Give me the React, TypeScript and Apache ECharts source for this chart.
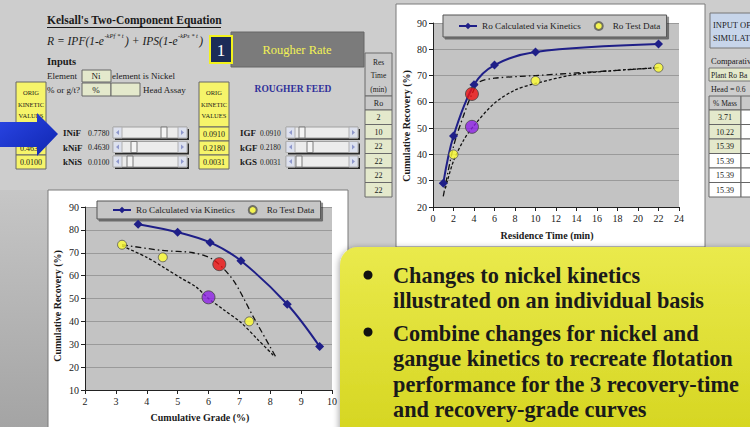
import React, { useEffect, useRef } from "react";
import * as echarts from "echarts";

// ---------- data ----------
const LEGEND_NAMES = ["Ro Calculated via Kinetics", "Ro Test Data"];

// Recovery vs residence time (top-right chart)
const timeCalc = [1, 2, 4, 6, 10, 22];
const recCalcTime = [29, 47, 66.5, 74, 79, 82];
const timeTest = [2, 10, 22];
const recTestTime = [40, 68, 73];
const timeDashDot = [1, 2, 3, 3.8, 4.5, 6, 10, 16, 22];
const recDashDotTime = [24, 43, 55, 63, 67.5, 69, 70, 71.5, 73];
const timeDotted = [1.2, 2, 3, 4, 6, 8, 10, 14, 18, 22];
const recDottedTime = [27, 37.5, 45.5, 51, 59.5, 64.5, 67, 70.5, 72, 73];
const timeRed = [3.8];
const recRedTime = [63];
const timePurple = [3.8];
const recPurpleTime = [50.5];

// Recovery vs grade (bottom-left chart)
const gradeCalc = [3.72, 5.0, 6.05, 7.05, 8.55, 9.6];
const recCalcGrade = [82.5, 79, 74.5, 66.5, 47.5, 29];
const gradeTest = [3.2, 4.52, 7.32];
const recTestGrade = [73.5, 68, 40];
const gradeDashDot = [3.2, 4.5, 5.5, 6.15, 6.8, 7.45, 8.2];
const recDashDotGrade = [73.5, 71, 70, 67, 58, 42, 24];
const gradeDotted = [3.2, 4.0, 4.5, 5.1, 5.6, 6.0, 6.5, 7.05, 7.6, 8.15];
const recDottedGrade = [73, 68, 64, 59, 55, 50, 45, 39.5, 32, 24.5];
const gradeRed = [6.35];
const recRedGrade = [65];
const gradePurple = [6.0];
const recPurpleGrade = [50.5];

// Spreadsheet values
const resTimes = ["2", "10", "22", "22", "22", "22"];
const massPct = ["3.71", "10.22", "15.39", "15.39", "15.39", "15.39"];
const bulletLines1 = ["Changes to nickel kinetics", "illustrated on an individual basis"];
const bulletLines2 = [
  "Combine changes for nickel and",
  "gangue kinetics to recreate flotation",
  "performance for the 3 recovery-time",
  "and recovery-grade curves",
];

const zip = (a: number[], b: number[]) => a.map((v, i) => [v, b[i]]);

const SERIF_NAME = "Liberation Serif";
const SERIF = "'Liberation Serif', 'DejaVu Serif', serif";
const BLUE = "#1f1f88";
const YELLOW_PT = "#ffff33";

function measure(text: string, size: number, italic = false) {
  const c = document.createElement("canvas").getContext("2d");
  if (!c) return text.length * size * 0.45;
  c.font = `${italic ? "italic " : ""}${size}px "${SERIF_NAME}"`;
  return c.measureText(text).width;
}

function T(text: string, x: number, y: number, o: any = {}) {
  return {
    type: "text",
    x,
    y,
    z: o.z ?? 1,
    rotation: o.rotation ?? 0,
    style: {
      text,
      fontFamily: SERIF,
      fontSize: o.size ?? 10,
      fontWeight: o.bold ? "bold" : "normal",
      fontStyle: o.italic ? "italic" : "normal",
      fill: o.color ?? "#1a1a1a",
      align: o.align ?? "left",
      verticalAlign: "middle",
    },
  };
}
function R(x: number, y: number, w: number, h: number, fill: any, stroke?: string, o: any = {}) {
  return {
    type: "rect",
    z: o.z ?? 0,
    shape: { x, y, width: w, height: h, r: o.r ?? 0 },
    style: {
      fill,
      stroke: stroke ?? null,
      lineWidth: o.lw ?? 1,
      shadowBlur: o.shadowBlur ?? 0,
      shadowColor: o.shadowColor ?? "transparent",
      shadowOffsetX: o.sx ?? 0,
      shadowOffsetY: o.sy ?? 0,
    },
  };
}
function slider(x: number, y: number, w: number, thumbX: number) {
  const h = 11;
  return [
    R(x + 2, y + 2, w, h, "#2a2a2a"),
    R(x, y, w, h, "#ececec", "#a0a0a0"),
    R(x, y, 9, h, "#dde1ee", "#b0b0b0"),
    R(x + w - 9, y, 9, h, "#dde1ee", "#b0b0b0"),
    {
      type: "polygon",
      z: 1,
      shape: { points: [[x + 6, y + 3], [x + 6, y + 8], [x + 3, y + 5.5]] },
      style: { fill: "#8f98cc" },
    },
    {
      type: "polygon",
      z: 1,
      shape: { points: [[x + w - 6, y + 3], [x + w - 6, y + 8], [x + w - 3, y + 5.5]] },
      style: { fill: "#8f98cc" },
    },
    R(thumbX, y, 6, h, "#f4f4f4", "#7a7a7a", { z: 1 }),
  ];
}

function buildGraphics() {
  const g: any[] = [];
  // page background
  g.push(R(0, 0, 750, 427, "#cdcdcd", undefined, { z: -10 }));
  g.push(
    R(0, 190, 48, 237, new echarts.graphic.LinearGradient(0, 0, 0, 1, [
      { offset: 0, color: "#c6c6c6" },
      { offset: 1, color: "#a4a4a4" },
    ]), undefined, { z: -9 })
  );
  // chart white areas
  g.push(R(396, 4, 309, 243, "#ffffff", "#7a7a7a", { z: -9 }));
  g.push(R(48, 190, 300, 240, "#ffffff", "#7a7a7a", { z: -9 }));

  // Title & formula
  g.push(T("Kelsall's Two-Component Equation", 47, 20, { size: 11.5, bold: true }));
  g.push({ type: "line", z: 1, shape: { x1: 47, y1: 27.5, x2: 221, y2: 27.5 }, style: { stroke: "#1a1a1a", lineWidth: 1 } });
  const fMain = 11.5;
  const fSup = 6.5;
  const pieces: [string, boolean][] = [
    ["R = IPF(1-e", false],
    ["-kPf * t", true],
    [") + IPS(1-e", false],
    ["-kPs * t", true],
    [")", false],
  ];
  let fx = 47;
  pieces.forEach(([txt, sup]) => {
    const size = sup ? fSup : fMain;
    g.push(T(txt, fx, sup ? 35 : 41, { size, italic: true }));
    fx += measure(txt, size, true) + (sup ? 1.5 : 0.5);
  });

  // "1" box and Rougher Rate
  g.push(R(231, 32, 133, 35, "#7b7b7b", "#666"));
  g.push(T("Rougher Rate", 297, 50, { size: 12.5, color: "#f2f256", align: "center" }));
  g.push(R(210, 36, 22, 27, "#1c2c58", "#f2f21c", { lw: 2, z: 1 }));
  g.push(T("1", 221, 50, { size: 17, color: "#ffffff", align: "center", z: 2 }));

  // Inputs
  g.push(T("Inputs", 47, 61, { size: 10.5, bold: true }));
  g.push(T("Element", 47, 76, { size: 9 }));
  g.push(R(82, 70, 29, 12, "#e4e9cc", "#666"));
  g.push(T("Ni", 96, 76, { size: 9, align: "center" }));
  g.push(T("element is Nickel", 112, 76, { size: 9 }));
  g.push(T("% or g/t?", 47, 90, { size: 9 }));
  g.push(R(82, 83, 29, 13, "#e4e9cc", "#666"));
  g.push(T("%", 96, 90, { size: 9, align: "center" }));
  g.push(R(111, 83, 29, 13, "#e4e9cc", "#666"));
  g.push(T("Head Assay", 143, 90, { size: 9 }));

  // ORIG KINETIC VALUES boxes
  const yellowBox = (x: number, vals: string[]) => {
    g.push(R(x, 82, 30, 45, "#f6f46a", "#666"));
    g.push(T("ORIG", x + 15, 92, { size: 6.5, align: "center" }));
    g.push(T("KINETIC", x + 15, 104, { size: 6.5, align: "center" }));
    g.push(T("VALUES", x + 15, 115, { size: 6.5, align: "center" }));
    vals.forEach((v, i) => {
      g.push(R(x, 127 + i * 14, 30, 14, "#f6f46a", "#666"));
      g.push(T(v, x + 15, 134 + i * 14, { size: 8, align: "center" }));
    });
  };
  yellowBox(16, ["0.7780", "0.4630", "0.0100"]);
  yellowBox(199, ["0.0910", "0.2180", "0.0031"]);

  g.push(T("ROUGHER FEED", 293, 89, { size: 9.5, bold: true, color: "#30309a", align: "center" }));

  // Left slider block
  const leftLab = ["INiF", "kNiF", "kNiS"];
  const leftVal = ["0.7780", "0.4630", "0.0100"];
  const leftThumb = [161, 131, 127];
  leftLab.forEach((l, i) => {
    const yc = 133 + i * 14.5;
    g.push(T(l, 63, yc, { size: 9, bold: true }));
    g.push(T(leftVal[i], 88, yc, { size: 7.8 }));
    g.push(...slider(113, yc - 6, 74, leftThumb[i]));
  });
  const rightLab = ["IGF", "kGF", "kGS"];
  const rightVal = ["0.0910", "0.2180", "0.0031"];
  const rightThumb = [299, 307, 296];
  rightLab.forEach((l, i) => {
    const yc = 133 + i * 14.5;
    g.push(T(l, 240, yc, { size: 9, bold: true }));
    g.push(T(rightVal[i], 260, yc, { size: 7.5 }));
    g.push(...slider(286, yc - 6, 72, rightThumb[i]));
  });

  // Blue arrow
  g.push({
    type: "polygon",
    z: 3,
    shape: { points: [[0, 122], [37, 122], [37, 113], [58, 134], [37, 156], [37, 147], [0, 147]] },
    style: {
      fill: new echarts.graphic.LinearGradient(0, 0, 1, 1, [
        { offset: 0, color: "#2a46e6" },
        { offset: 1, color: "#1026b0" },
      ]),
    },
  });

  // Res Time column
  g.push(R(365, 53, 27, 43, "#c9c9c9", "#6a6a6a"));
  g.push(T("Res", 378.5, 62, { size: 7.5, align: "center" }));
  g.push(T("Time", 378.5, 75, { size: 7.5, align: "center" }));
  g.push(T("(min)", 378.5, 89, { size: 7.5, align: "center" }));
  g.push(R(365, 96, 27, 14, "#c9c9c9", "#6a6a6a"));
  g.push(T("Ro", 378.5, 103, { size: 8, align: "center" }));
  resTimes.forEach((v, i) => {
    g.push(R(365, 110 + i * 14.5, 27, 14.5, "#e4e9cc", "#6a6a6a"));
    g.push(T(v, 378.5, 117.5 + i * 14.5, { size: 8, align: "center" }));
  });

  // Right-edge table
  g.push(R(710, 13, 45, 35, "#c7d5ea", "#777"));
  g.push(T("INPUT OF", 713, 25, { size: 8.5 }));
  g.push(T("SIMULAT", 713, 38, { size: 8.5 }));
  g.push(T("Comparativ", 711, 61, { size: 8.5 }));
  g.push(R(709, 68, 46, 13, "#e4e9cc", "#777"));
  g.push(T("Plant Ro Ba", 711, 75, { size: 7.5 }));
  g.push(T("Head =", 711, 89, { size: 8 }));
  g.push(T("0.6", 736, 89, { size: 7.5 }));
  g.push(R(709, 96, 32, 14, "#c9c9c9", "#666"));
  g.push(R(741, 96, 14, 14, "#c9c9c9", "#666"));
  g.push(T("% Mass", 725, 103, { size: 7.5, align: "center" }));
  massPct.forEach((v, i) => {
    const fill = i < 3 ? "#e4e9cc" : "#ffffff";
    g.push(R(709, 110 + i * 14.5, 32, 14.5, fill, "#666"));
    g.push(R(741, 110 + i * 14.5, 14, 14.5, "#ffffff", "#666"));
    g.push(T(v, 725, 117.5 + i * 14.5, { size: 8, align: "center" }));
  });

  // Axis names
  g.push(T("Cumulative Recovery (%)", 406, 126, { size: 10, bold: true, align: "center", rotation: Math.PI / 2 }));
  g.push(T("Residence Time (min)", 547, 235, { size: 10, bold: true, align: "center" }));
  g.push(T("Cumulative Recovery (%)", 57, 306, { size: 10, bold: true, align: "center", rotation: Math.PI / 2 }));
  g.push(T("Cumulative Grade (%)", 200, 417, { size: 10, bold: true, align: "center" }));

  // Yellow callout box
  g.push(
    R(340, 247, 430, 200, new echarts.graphic.LinearGradient(0, 0, 0, 1, [
      { offset: 0, color: "#eaea4c" },
      { offset: 1, color: "#d4d41e" },
    ]), undefined, { z: 50, r: 18, shadowBlur: 6, shadowColor: "rgba(0,0,0,0.35)", sx: -1, sy: 1 })
  );
  g.push({ type: "circle", z: 51, shape: { cx: 368, cy: 275, r: 4.5 }, style: { fill: "#111" } });
  g.push({ type: "circle", z: 51, shape: { cx: 368, cy: 332, r: 4.5 }, style: { fill: "#111" } });
  bulletLines1.forEach((l, i) => g.push(T(l, 393, 275 + i * 25.5, { size: 22.3, bold: true, z: 51 })));
  bulletLines2.forEach((l, i) => g.push(T(l, 393, 333 + i * 25.5, { size: 22.3, bold: true, z: 51 })));
  return g;
}

function axisX(gridIndex: number, min: number, max: number, interval: number) {
  return {
    type: "value",
    gridIndex,
    min,
    max,
    interval,
    axisLine: { show: true, onZero: false, lineStyle: { color: "#222", width: 1 } },
    axisTick: { show: true, length: 4, lineStyle: { color: "#222" } },
    axisLabel: { fontFamily: SERIF, fontSize: 10, color: "#222", margin: 6 },
    splitLine: { show: false },
  };
}
function axisY(gridIndex: number, min: number, max: number, interval: number) {
  return {
    type: "value",
    gridIndex,
    min,
    max,
    interval,
    axisLine: { show: true, onZero: false, lineStyle: { color: "#222", width: 1 } },
    axisTick: { show: true, length: 4, lineStyle: { color: "#222" } },
    axisLabel: { fontFamily: SERIF, fontSize: 10, color: "#222", margin: 6 },
    splitLine: { show: true, lineStyle: { color: "#9a9a9a", width: 1 } },
  };
}

function seriesFor(ax: number, d: any) {
  return [
    {
      name: LEGEND_NAMES[0],
      type: "line",
      xAxisIndex: ax,
      yAxisIndex: ax,
      data: d.calc,
      smooth: 0.35,
      symbol: "diamond",
      symbolSize: 9,
      z: 4,
      lineStyle: { color: BLUE, width: 2 },
      itemStyle: { color: BLUE },
    },
    {
      name: LEGEND_NAMES[1],
      type: "scatter",
      xAxisIndex: ax,
      yAxisIndex: ax,
      data: d.test,
      symbol: "circle",
      symbolSize: 9,
      z: 5,
      itemStyle: { color: YELLOW_PT, borderColor: "#555", borderWidth: 1 },
    },
    {
      type: "line",
      xAxisIndex: ax,
      yAxisIndex: ax,
      data: d.dashDot,
      smooth: 0.3,
      symbol: "none",
      z: 3,
      lineStyle: { color: "#111", width: 1.3, type: [6, 3, 1.5, 3] },
    },
    {
      type: "line",
      xAxisIndex: ax,
      yAxisIndex: ax,
      data: d.dotted,
      smooth: 0.3,
      symbol: "none",
      z: 3,
      lineStyle: { color: "#111", width: 1.3, type: [3, 2] },
    },
    {
      type: "scatter",
      xAxisIndex: ax,
      yAxisIndex: ax,
      data: d.red,
      symbol: "circle",
      symbolSize: 13,
      z: 6,
      itemStyle: { color: "#ee1111", borderColor: "#444", borderWidth: 1 },
    },
    {
      type: "scatter",
      xAxisIndex: ax,
      yAxisIndex: ax,
      data: d.purple,
      symbol: "circle",
      symbolSize: 13,
      z: 6,
      itemStyle: { color: "#8e22e6", borderColor: "#444", borderWidth: 1 },
    },
  ];
}

function legendAt(left: number, top: number, padV: number) {
  return {
    left,
    top,
    data: LEGEND_NAMES,
    orient: "horizontal",
    itemWidth: 18,
    itemHeight: 8,
    itemGap: 13,
    padding: [padV, 6, padV, 15],
    backgroundColor: "#c6c6c6",
    borderColor: "#555",
    borderWidth: 1,
    shadowColor: "rgba(0,0,0,0.45)",
    shadowOffsetX: 2,
    shadowOffsetY: 2,
    shadowBlur: 0,
    textStyle: { fontFamily: SERIF, fontSize: 9.2, color: "#222" },
    selectedMode: false,
  };
}

export default function App() {
  const ref = useRef<HTMLDivElement>(null);
  useEffect(() => {
    if (!ref.current) return;
    document.body.style.margin = "0";
    const chart = echarts.init(ref.current, undefined, { renderer: "svg" });
    chart.setOption({
      animation: false,
      backgroundColor: "#cdcdcd",
      grid: [
        { left: 433, top: 23, width: 246, height: 184, show: true, backgroundColor: "#c3c3c3", borderWidth: 0, containLabel: false },
        { left: 85, top: 207, width: 247, height: 183, show: true, backgroundColor: "#c3c3c3", borderWidth: 0, containLabel: false },
      ],
      xAxis: [axisX(0, 0, 24, 2), axisX(1, 2, 10, 1)],
      yAxis: [axisY(0, 20, 90, 10), axisY(1, 10, 90, 10)],
      legend: [legendAt(443, 15, 6), legendAt(97, 201, 4)],
      graphic: { elements: buildGraphics() },
      series: [
        ...seriesFor(0, {
          calc: zip(timeCalc, recCalcTime),
          test: zip(timeTest, recTestTime),
          dashDot: zip(timeDashDot, recDashDotTime),
          dotted: zip(timeDotted, recDottedTime),
          red: zip(timeRed, recRedTime),
          purple: zip(timePurple, recPurpleTime),
        }),
        ...seriesFor(1, {
          calc: zip(gradeCalc, recCalcGrade),
          test: zip(gradeTest, recTestGrade),
          dashDot: zip(gradeDashDot, recDashDotGrade),
          dotted: zip(gradeDotted, recDottedGrade),
          red: zip(gradeRed, recRedGrade),
          purple: zip(gradePurple, recPurpleGrade),
        }),
      ],
    });
    return () => chart.dispose();
  }, []);
  return (
    <div
      ref={ref}
      style={{ position: "absolute", left: 0, top: 0, width: 750, height: 427 }}
    />
  );
}
